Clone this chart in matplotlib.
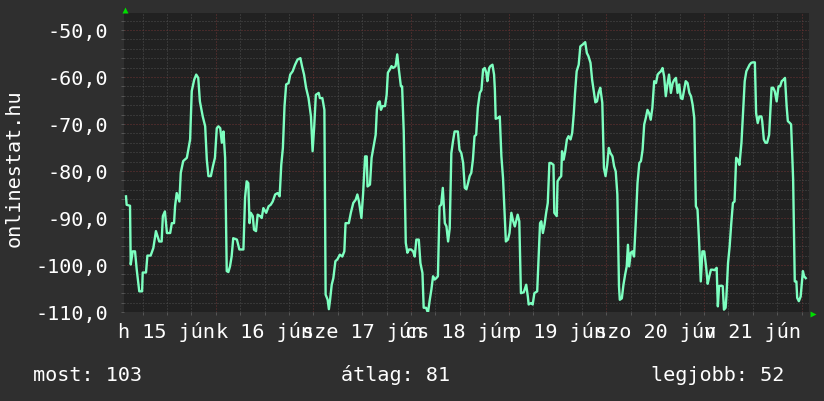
import matplotlib
matplotlib.use('Agg')
import matplotlib.pyplot as plt
import matplotlib.transforms as mtransforms
from matplotlib.ticker import MultipleLocator, FuncFormatter, FixedLocator

# hours since 2015-06-15 00:00
hours = [1.94, 2.1, 2.93, 3.1, 3.6, 4.16, 4.58, 5.2, 5.9, 6.05, 6.86, 7.2, 8.0, 8.66, 9.3,
         10.1, 10.7, 11.0, 11.5, 12.0, 12.8, 13.2, 13.75, 14.0, 14.4, 15.06, 15.4, 16.0, 16.9,
         17.7, 18.1, 18.7, 19.2, 19.7, 20.1, 20.8, 21.4, 21.8, 22.2, 22.8, 23.3, 23.8, 24.25,
         24.65,
         25.1, 25.5, 25.9, 26.3, 26.7, 27.1, 27.5, 27.9, 28.3, 29.2, 29.8, 30.8, 31.2, 31.6,
         32.0, 32.3, 32.6, 33.1, 33.4, 33.9, 34.3, 34.9, 35.3, 35.7, 36.4, 37.0, 37.5, 38.0,
         38.6, 39.2, 39.7, 40.1, 40.5, 40.9, 41.3, 41.9, 42.3, 42.9, 43.5, 44.1, 44.8, 45.2,
         45.7, 46.2, 46.8, 47.4, 47.8, 48.2, 48.6, 49.3,
         49.6, 50.2, 50.7, 51.0, 51.5, 51.8, 52.1, 52.5, 52.9, 53.4, 53.9, 54.5, 55.1, 55.6,
         55.9, 56.7, 57.2, 57.8, 58.4, 58.8, 59.2, 59.5, 59.8, 60.2, 60.7, 61.1, 61.3, 61.9,
         62.3, 62.8, 63.3, 63.6, 63.9, 64.3, 64.6, 65.0, 65.6, 66.0, 66.3, 66.8, 67.2, 67.6,
         68.2, 68.6, 69.0, 69.5, 69.8, 70.2, 70.7, 71.1, 71.5, 72.0, 72.5, 72.9,
         73.3, 73.9, 74.3, 74.8, 75.1, 75.7, 76.15, 76.6, 77.0, 77.4, 77.8, 78.2, 78.6, 79.0,
         79.4, 79.8, 80.3, 80.7, 81.1, 81.5, 81.9, 82.3, 82.7, 83.5, 83.9, 84.35, 84.8, 85.2,
         85.6, 86.0, 86.4, 86.8, 87.2, 87.6, 88.0, 88.4, 88.9, 89.3, 89.7, 90.1, 90.5, 90.75,
         91.2, 91.5, 92.0, 92.4, 92.6, 92.8, 93.4, 93.8, 94.2, 94.6, 95.0, 95.3, 95.8, 96.2,
         96.65, 97.1, 97.5, 97.8, 98.2, 98.6,
         99.0, 99.7, 100.3, 100.7, 100.9, 101.5, 101.9, 102.3, 103.0, 103.3, 103.7, 104.0,
         104.4, 104.8, 105.2, 105.6, 106.0, 106.4, 107.0, 107.2, 107.8, 108.0, 108.5, 108.9,
         109.1, 109.5, 109.9, 110.3, 110.7, 111.2, 111.6, 112.0, 112.3, 112.7, 113.2, 113.6,
         114.2, 114.8, 115.2, 115.6, 116.1, 116.5, 116.9, 117.3, 117.7, 118.1, 118.5, 119.0,
         119.4, 119.8, 120.2, 120.6, 121.0,
         121.5, 121.9, 122.3, 122.7, 123.1, 123.3, 123.8, 124.2, 124.6, 125.0, 125.3, 125.6,
         126.0, 126.4, 126.8, 127.2, 127.65, 128.1, 128.5, 128.9, 129.3, 129.7, 130.1, 130.5,
         130.9, 131.3, 131.75, 132.2, 132.6, 133.0, 133.4, 133.8, 134.2, 134.6, 135.0, 135.4,
         135.85, 136.3, 136.7, 137.1, 137.5, 137.9, 138.3, 138.7, 139.1, 139.5, 139.95, 140.4,
         140.8, 141.2, 141.6, 142.0, 142.4, 142.8, 143.2, 143.6, 144.05, 144.5, 144.9, 145.3,
         145.7, 146.1,
         146.6, 147.1, 147.4, 147.7, 148.2, 148.6, 148.9, 149.3, 149.5, 149.9, 150.3, 150.7,
         151.1, 151.5, 151.9, 152.3, 152.7, 153.2, 153.6, 154.0, 154.4, 154.8, 155.2, 155.6,
         156.0, 156.5, 156.8, 157.2, 157.6, 158.1, 158.3, 158.7, 159.1, 159.5, 160.0, 160.4,
         160.6, 161.0, 161.4, 161.85, 162.3, 162.7, 163.1, 163.5, 163.9, 164.3, 164.6, 165.1,
         165.4, 165.9, 166.3, 166.7, 166.9, 167.3, 167.75, 168.0, 168.3, 168.6, 169.0]

values = [-85.4, -87.2, -87.4, -99.9, -97.1, -97.1, -101.0, -105.6, -105.6, -101.6, -101.6,
          -98.0, -98.0, -96.4, -92.8, -95.0, -95.0, -89.6, -88.6, -93.2, -93.2, -91.1, -91.1,
          -87.5, -84.7, -86.5, -80.4, -77.9, -77.2, -73.3, -63.0, -60.6, -59.5, -60.2, -65.2,
          -68.4, -70.5, -77.6, -81.1, -81.1, -79.0, -77.2, -70.9, -70.5,
          -70.9, -74.0, -71.6, -77.2, -101.3, -101.5, -100.3, -98.2, -94.3, -94.6, -96.7,
          -96.7, -85.7, -82.2, -82.6, -91.1, -88.9, -89.6, -92.5, -92.8, -89.3, -89.6, -90.0,
          -87.9, -88.9, -87.5, -87.2, -86.5, -85.0, -84.7, -85.4, -78.7, -75.1, -66.2, -61.6,
          -61.3, -59.5, -58.8, -57.4, -56.3, -56.0, -57.7, -59.5, -62.3, -64.5, -68.4, -75.8,
          -70.5, -63.8, -63.4,
          -64.5, -64.5, -67.0, -106.3, -107.4, -109.4, -107.4, -104.2, -102.8, -99.2, -98.8,
          -97.8, -98.2, -97.1, -91.1, -91.1, -88.9, -86.8, -86.1, -85.0, -86.5, -88.2, -90.0,
          -85.0, -76.9, -76.9, -83.3, -82.9, -77.2, -74.8, -72.3, -67.0, -65.5, -65.2, -67.0,
          -66.2, -66.2, -63.8, -59.1, -58.4, -57.7, -58.1, -57.7, -55.2, -58.4, -62.0, -62.0,
          -71.6, -95.3, -97.4, -96.7, -96.7, -97.1, -98.2,
          -94.6, -94.6, -99.6, -101.7, -109.1, -109.1, -110.2, -107.4, -105.2, -102.4, -103.1,
          -102.8, -102.4, -87.5, -87.2, -83.6, -91.1, -91.8, -95.0, -92.2, -76.2, -73.7, -71.6,
          -71.6, -75.5, -76.2, -78.3, -83.6, -83.9, -82.6, -81.1, -80.4, -77.6, -72.6, -72.3,
          -66.6, -63.4, -62.8, -58.4, -58.1, -59.1, -60.9, -58.1, -57.7, -57.4, -59.5, -62.7,
          -68.9, -68.7, -68.4, -76.9, -81.5, -89.3, -95.0, -94.6, -93.2, -88.9, -90.7, -91.8,
          -90.7, -89.3, -90.7,
          -106.0, -105.8, -104.2, -106.7, -108.4, -108.1, -108.4, -106.0, -105.6, -99.2, -91.1,
          -90.7, -93.2, -91.4, -88.9, -86.8, -78.3, -78.3, -78.7, -88.9, -89.6, -82.2, -81.5,
          -81.1, -75.8, -77.6, -75.8, -73.3, -72.6, -73.3, -71.9, -67.7, -63.4, -58.8, -57.4,
          -53.5, -53.1, -52.6, -54.9, -55.6, -57.0, -60.6, -63.0, -65.4, -65.2, -63.3, -62.3,
          -65.5, -79.4, -81.1, -78.7, -75.1, -76.2,
          -76.9, -79.0, -80.1, -85.0, -104.5, -107.4, -107.1, -104.2, -102.1, -100.3, -95.7,
          -100.3, -97.4, -97.1, -98.2, -91.4, -82.6, -78.3, -77.9, -75.5, -70.1, -68.7, -67.0,
          -67.7, -69.1, -66.6, -60.9, -61.3, -59.5, -59.1, -58.8, -58.1, -59.9, -64.1, -61.6,
          -59.5, -63.4, -61.3, -60.6, -60.2, -63.4, -61.6, -64.5, -64.7, -62.8, -60.9, -61.3,
          -63.4, -64.1, -65.9, -68.7, -87.5, -88.2, -95.3, -103.5, -97.1, -97.1, -100.3, -104.0,
          -102.4, -101.0, -101.0,
          -101.1, -100.6, -108.8, -104.5, -104.4, -104.5, -109.5, -109.1, -106.7, -99.6, -96.0,
          -91.1, -86.8, -86.5, -77.2, -77.6, -78.7, -74.0, -67.3, -60.9, -58.8, -58.1, -57.4,
          -57.0, -56.9, -56.9, -67.7, -69.8, -68.4, -68.4, -69.4, -73.3, -74.0, -74.0, -72.3,
          -65.5, -62.3, -62.3, -63.1, -65.2, -62.0, -62.0, -60.9, -60.6, -60.2, -66.2, -69.4,
          -69.8, -70.1, -81.8, -103.5, -103.5, -107.0, -107.7, -106.7, -104.3, -101.3, -102.4,
          -102.8]

day_hours = [12, 36, 60, 84, 108, 132, 156]
day_labels = ['h 15 jún', 'k 16 jún', 'sze 17 jún', 'cs 18 jún', 'p 19 jún',
              'szo 20 jún', 'v 21 jún']
y_title = 'onlinestat.hu'
stat_names = ['most', 'átlag', 'legjobb']
stat_values = [103, 81, 52]

plt.rcParams['font.family'] = ['DejaVu Sans Mono']
FS = 14.5
W, H = 824, 402

fig = plt.figure(figsize=(W / 100, H / 100), dpi=100, facecolor='#2f2f2f')
ax = fig.add_axes([124 / W, (H - 313) / H, 685 / W, 299 / H])
ax.set_facecolor('#212121')

ax.plot(hours, values, color='#7dffc0', lw=1.7, solid_joinstyle='round', zorder=3)

ax.set_xlim(1.45, 169.8)
ax.set_ylim(-110, -46.4)

ax.xaxis.set_major_locator(MultipleLocator(24))
ax.xaxis.set_minor_locator(MultipleLocator(6))
ax.yaxis.set_major_locator(MultipleLocator(10))
ax.yaxis.set_minor_locator(MultipleLocator(2))
ax.xaxis.set_major_formatter(FuncFormatter(lambda v, p: ''))
ax.yaxis.set_major_formatter(FuncFormatter(lambda v, p: f'{v:.1f}'.replace('.', ',')))

dots = (0, (1, 2))
ax.grid(which='minor', color='#4d4d4d', linestyle=dots, linewidth=0.72)
ax.grid(which='major', color='#6e3434', linestyle=dots, linewidth=0.72)
ax.set_axisbelow(True)

for s in ax.spines.values():
    s.set_visible(False)

ax.tick_params(axis='both', which='both', color='#555555', length=2.2, width=0.72,
               labelcolor='white', labelsize=FS)
ax.tick_params(axis='y', pad=9)

for hh, lab in zip(day_hours, day_labels):
    ax.annotate(lab, xy=(hh, 0), xycoords=('data', 'axes fraction'),
                xytext=(0, -9), textcoords='offset pixels', ha='center', va='top',
                color='white', fontsize=FS, annotation_clip=False)

fig.text(14.5 / W, 1 - 168 / H, y_title, rotation=90, ha='center', va='center',
         color='white', fontsize=FS)

stat_x = [33, 341, 651]
for x, n, v in zip(stat_x, stat_names, stat_values):
    fig.text(x / W, 1 - 381 / H, f'{n}: {v}', ha='left', va='baseline',
             color='white', fontsize=FS)

# axis arrows
t_up = mtransforms.offset_copy(ax.transAxes, fig=fig, x=1, y=3, units='dots')
ax.plot([0], [1], transform=t_up, marker='^', ms=4.5, color='#00dd00', mec='none',
        clip_on=False)
t_right = mtransforms.offset_copy(ax.transAxes, fig=fig, x=4, y=-1.5, units='dots')
ax.plot([1], [0], transform=t_right, marker='>', ms=4.5, color='#00dd00', mec='none',
        clip_on=False)

fig.savefig('out.png', dpi=100, facecolor=fig.get_facecolor())
